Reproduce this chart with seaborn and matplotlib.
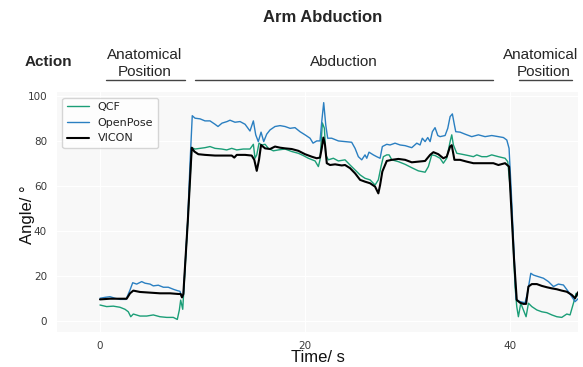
import matplotlib
matplotlib.use("Agg")
import matplotlib.pyplot as plt
from matplotlib.lines import Line2D
import seaborn as sns
import pandas as pd

# ---------------- data (time in s, angle in degrees) ----------------
vicon_t = [0, 0.98, 1.95, 2.60, 2.93, 3.25, 3.90, 4.88, 5.85, 6.83, 7.64, 7.87, 8.00, 8.13,
           8.56, 8.95, 9.20, 9.59, 10.24, 11.22, 12.20, 12.85, 13.10, 13.34, 14.15, 14.80,
           15.05, 15.29, 15.51, 15.71, 16.10, 16.59, 17.07, 17.56, 18.05, 18.70, 19.35, 20.00,
           20.65, 21.14, 21.46, 21.63, 21.79, 21.95, 22.12, 22.44, 22.93, 23.58, 23.90, 24.39,
           24.88, 25.37, 25.85, 26.34, 26.83, 27.15, 27.32, 27.54, 27.97, 28.46, 29.10, 29.76,
           30.41, 31.05, 31.71, 32.20, 32.52, 33.00, 33.49, 33.82, 34.15, 34.31, 34.57, 35.12,
           35.77, 36.42, 37.07, 37.73, 38.37, 38.86, 39.51, 39.90, 40.39, 40.65, 40.98, 41.30,
           41.56, 41.79, 42.12, 42.61, 43.09, 43.58, 44.07, 44.56, 45.04, 45.53, 46.02, 46.34,
           46.57, 46.76]
vicon_v = [9.6, 9.9, 9.9, 9.9, 12.3, 13.5, 12.9, 12.6, 12.3, 12.3, 12.0, 12.0, 10.5, 12.0,
           44.0, 77.0, 75.3, 74.1, 73.8, 73.5, 73.5, 73.5, 72.6, 73.8, 73.8, 73.5,
           71.6, 66.7, 71.6, 78.2, 76.7, 76.4, 77.5, 77.0, 76.7, 76.4, 75.6, 74.1,
           73.0, 72.3, 72.6, 76.7, 81.5, 78.2, 70.1, 69.3, 69.6, 69.1, 69.3, 67.9,
           65.6, 62.7, 61.9, 61.2, 59.7, 56.7, 60.4, 66.4, 71.1, 71.6, 72.0, 71.6,
           70.5, 70.8, 71.1, 73.8, 75.0, 74.1, 72.3, 73.0, 77.5, 78.1, 71.6, 71.6,
           70.8, 70.1, 70.1, 70.1, 70.1, 69.3, 70.1, 68.6, 27.0, 9.3, 8.1, 7.6,
           7.6, 15.3, 16.4, 16.4, 15.6, 15.0, 14.5, 14.1, 13.5, 13.0, 11.6, 10.1,
           12.3, 13.5]

openpose_t = [0, 0.49, 0.98, 1.46, 1.95, 2.54, 2.93, 3.19, 3.58, 4.07, 4.39, 4.88, 5.20, 5.69,
              6.18, 6.66, 7.15, 7.54, 7.80, 7.97, 8.13, 8.56, 8.78, 9.00, 9.27, 9.76, 10.24,
              10.73, 11.22, 11.51, 11.90, 12.39, 12.68, 13.17, 13.66, 14.15, 14.44, 14.63, 14.96,
              15.19, 15.44, 15.71, 15.97, 16.26, 16.59, 17.07, 17.56, 18.05, 18.54, 19.02, 19.51,
              20.00, 20.49, 20.78, 21.14, 21.46, 21.63, 21.82, 22.02, 22.21, 22.60, 23.25, 23.90,
              24.55, 24.88, 25.20, 25.53, 25.85, 26.02, 26.24, 26.66, 26.99, 27.32, 27.54, 27.97,
              28.29, 28.78, 29.27, 29.76, 30.41, 30.90, 31.22, 31.44, 31.71, 31.97, 32.20, 32.42,
              32.68, 32.95, 33.17, 33.66, 33.92, 34.15, 34.37, 34.57, 34.70, 35.12, 35.61, 36.26,
              36.91, 37.56, 38.21, 38.86, 39.35, 39.68, 39.90, 40.10, 40.59, 40.98, 41.46, 41.69,
              42.02, 42.28, 42.76, 43.25, 43.74, 44.23, 44.71, 45.20, 45.69, 46.02, 46.34, 46.57,
              46.76]
openpose_v = [10.1, 10.5, 10.8, 10.1, 9.6, 9.6, 13.8, 17.0, 16.4, 17.5, 16.8, 16.4, 15.6, 15.9,
              15.0, 15.0, 14.1, 13.5, 13.2, 10.8, 11.4, 45.0, 70.0, 91.2, 90.1, 89.8, 88.9,
              88.9, 87.4, 86.4, 87.9, 88.6, 89.2, 88.3, 88.6, 87.4, 85.6, 84.4, 88.9,
              82.7, 79.7, 83.9, 79.7, 83.0, 84.9, 86.4, 86.8, 86.4, 85.6, 85.9, 84.1,
              82.7, 81.2, 79.0, 80.0, 80.0, 88.6, 97.0, 87.1, 81.2, 81.2, 80.0, 79.7,
              79.4, 76.7, 73.0, 71.6, 73.8, 72.3, 75.0, 73.8, 73.0, 72.3, 77.5, 78.5,
              78.2, 79.0, 78.2, 77.9, 77.0, 79.0, 78.2, 81.2, 79.7, 81.5, 79.7, 84.1,
              85.9, 82.4, 81.9, 82.4, 85.6, 90.8, 92.0, 87.1, 84.1, 83.9, 83.0, 81.9,
              82.7, 81.9, 82.4, 81.9, 81.5, 80.4, 76.7, 59.0, 9.6, 8.6, 8.1, 12.3,
              21.2, 20.4, 19.7, 19.0, 17.5, 15.3, 16.4, 16.0, 13.0, 10.8, 8.6, 9.6,
              10.4]

qcf_t = [0, 0.65, 1.30, 1.95, 2.44, 2.76, 3.00, 3.25, 3.90, 4.56, 5.20, 5.85, 6.51, 7.15,
         7.54, 7.74, 7.87, 8.07, 8.56, 8.95, 9.27, 9.76, 10.24, 10.73, 11.22, 11.87, 12.36,
         12.85, 13.34, 13.98, 14.63, 14.96, 15.12, 15.29, 15.51, 15.78, 16.10, 16.42, 16.91,
         17.40, 18.05, 18.70, 19.35, 19.83, 20.32, 20.98, 21.30, 21.46, 21.69, 21.89, 22.02,
         22.27, 22.76, 23.25, 23.90, 24.39, 24.88, 25.37, 25.85, 26.34, 26.83, 27.15, 27.41,
         27.64, 27.97, 28.20, 28.46, 29.10, 29.76, 30.41, 31.05, 31.71, 32.03, 32.36, 32.68,
         33.17, 33.49, 33.82, 34.15, 34.31, 34.47, 34.80, 35.28, 35.93, 36.42, 36.75, 37.24,
         37.73, 38.21, 38.86, 39.51, 39.77, 40.10, 40.49, 40.65, 40.81, 41.04, 41.30, 41.56,
         41.79, 42.12, 42.61, 43.09, 43.58, 44.07, 44.56, 45.04, 45.53, 45.85, 46.18, 46.44,
         46.67]
qcf_v = [7.1, 6.4, 6.6, 6.1, 5.2, 4.1, 1.9, 3.1, 2.2, 2.2, 2.7, 1.9, 1.6, 1.6,
         0.7, 4.9, 9.3, 5.2, 44.0, 77.0, 76.4, 76.7, 77.0, 77.5, 76.7, 76.4, 76.0,
         76.7, 76.0, 76.4, 76.4, 78.5, 72.3, 73.8, 79.0, 78.2, 78.5, 76.7, 75.6,
         76.0, 76.4, 75.3, 74.5, 73.5, 72.3, 71.1, 68.6, 71.6, 88.0, 85.6, 73.8,
         71.6, 72.3, 71.1, 71.6, 69.3, 67.1, 64.9, 63.4, 62.7, 60.4, 62.7, 68.6,
         73.0, 73.8, 73.8, 71.6, 70.8, 69.6, 68.1, 66.7, 66.1, 68.6, 73.8, 73.5,
         72.3, 70.1, 72.3, 79.7, 82.7, 78.2, 74.5, 74.1, 73.5, 73.0, 73.8, 73.0,
         73.0, 73.8, 73.0, 72.3, 70.8, 55.0, 15.0, 6.4, 1.9, 7.9, 4.9, 1.9,
         7.9, 6.4, 4.9, 4.1, 3.7, 2.7, 1.9, 1.6, 3.1, 2.7, 7.9, 12.3,
         10.8]

series_names = ["QCF", "OpenPose", "VICON"]
x_ticks = [0, 20, 40]
y_ticks = [0, 20, 40, 60, 80, 100]

df = pd.concat([
    pd.DataFrame({"Time": qcf_t, "Angle": qcf_v, "Source": "QCF"}),
    pd.DataFrame({"Time": openpose_t, "Angle": openpose_v, "Source": "OpenPose"}),
    pd.DataFrame({"Time": vicon_t, "Angle": vicon_v, "Source": "VICON"}),
], ignore_index=True)

# ---------------- style ----------------
sns.set_style("darkgrid", {"axes.facecolor": "#f8f8f8", "grid.color": "white"})
plt.rcParams["font.family"] = ["DejaVu Sans"]

colors = {"QCF": "#1b9e77", "OpenPose": "#2a7fc1", "VICON": "#000000"}
widths = {"QCF": 1.0, "OpenPose": 1.0, "VICON": 1.5}

fig = plt.figure(figsize=(5.83, 3.67), dpi=100)
ax = fig.add_axes([0.0973, 0.0967, 0.8937, 0.6518])

for name in series_names:
    sub = df[df["Source"] == name]
    sns.lineplot(data=sub, x="Time", y="Angle", ax=ax, color=colors[name],
                 linewidth=widths[name], label=name, estimator=None, sort=False)

ax.set_xlim(-4.22, 46.6)
ax.set_ylim(-4.67, 101.6)
ax.set_xticks(x_ticks)
ax.set_yticks(y_ticks)
ax.tick_params(length=0, pad=7, labelsize=7.5, colors="#3a3a3a")
for s in ax.spines.values():
    s.set_visible(False)

ax.set_xlabel("Time/ s", fontsize=12, family="Liberation Sans", color="#111111")
ax.set_ylabel("Angle/ °", fontsize=12, family="Liberation Sans", color="#111111")
ax.xaxis.set_label_coords(0.5006, -0.107)
ax.xaxis.label.set_va("center")
ax.yaxis.set_label_coords(-0.057, 0.49)
ax.yaxis.label.set_va("center")

leg = ax.legend(loc="upper left", fontsize=8, frameon=True, facecolor="white",
                edgecolor="#cccccc", fancybox=True)
for t in leg.get_texts():
    t.set_color("#222222")

# ---------------- header ----------------
W, H = 583.0, 367.0
def fx(px):
    return px / W
def fy(py):
    return 1 - py / H

fig.text(fx(323), fy(17), "Arm Abduction", ha="center", va="center",
         fontsize=12, fontweight="bold", family="Liberation Sans")
fig.text(fx(48.5), fy(62), "Action", ha="center", va="center",
         fontsize=11, fontweight="bold", family="Liberation Sans")
fig.text(fx(145), fy(55), "Anatomical", ha="center", va="center", fontsize=11, family="Liberation Sans")
fig.text(fx(145), fy(71.7), "Position", ha="center", va="center", fontsize=11, family="Liberation Sans")
fig.text(fx(344), fy(62), "Abduction", ha="center", va="center", fontsize=11, family="Liberation Sans")
fig.text(fx(540.5), fy(55), "Anatomical", ha="center", va="center", fontsize=11, family="Liberation Sans")
fig.text(fx(543.7), fy(71.7), "Position", ha="center", va="center", fontsize=11, family="Liberation Sans")

for x0, x1 in [(106, 185), (195, 493), (519, 572)]:
    fig.add_artist(Line2D([fx(x0), fx(x1)], [fy(79.5), fy(79.5)], transform=fig.transFigure,
                          color="#444444", linewidth=1.0))

fig.savefig("out.png", dpi=100)
